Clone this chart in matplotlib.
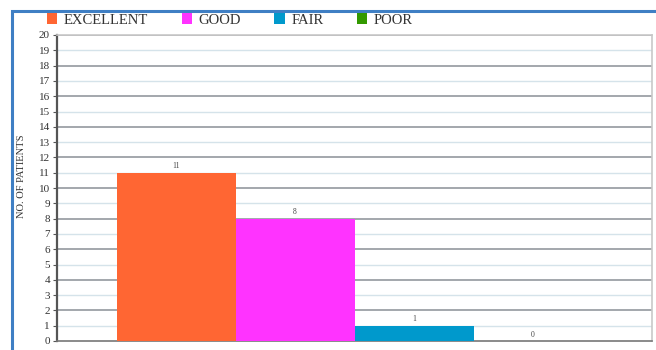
import matplotlib
matplotlib.use("Agg")
import matplotlib.pyplot as plt
from matplotlib.patches import Rectangle, Patch

# === DATA ===
categories = ["EXCELLENT", "GOOD", "FAIR", "POOR"]
patients = [11, 8, 1, 0]
colors = ["#ff6633", "#ff33ff", "#0099cc", "#339900"]
y_ticks = list(range(0, 21))

plt.rcParams["font.family"] = ["Liberation Serif", "DejaVu Serif"]

fig = plt.figure(figsize=(6.56, 3.5), dpi=100)
ax = fig.add_axes([57 / 656, 9 / 350, (652 - 57) / 656, (341 - 35) / 350])

# blue frame around the picture
fig.patches.append(Rectangle((12 / 656, -0.05), 0.99, (350 - 11) / 350 + 0.05,
                             transform=fig.transFigure, fill=False,
                             edgecolor="#3f7fc4", linewidth=2.2, zorder=0))

width = 0.2
for i, (cat, val, col) in enumerate(zip(categories, patients, colors)):
    x = -0.3 + i * width
    ax.bar(x, val, width=width, color=col, zorder=3)
    ax.text(x, val + 0.15, str(val), ha="center", va="bottom",
            fontsize=5.5, color="#444444", zorder=4)

ax.set_xlim(-0.5, 0.5)
ax.set_ylim(0, 20)
ax.set_yticks(y_ticks)
ax.set_yticklabels([str(t) for t in y_ticks], fontsize=8, color="#333333")
ax.set_xticks([])

for t in y_ticks[1:]:
    if t % 2 == 0:
        ax.axhline(t, color="#8a9096", linewidth=1.1, zorder=1)
    else:
        ax.axhline(t, color="#d5e3ea", linewidth=1.0, zorder=1)

for side in ["top", "right"]:
    ax.spines[side].set_color("#c8c8c8")
    ax.spines[side].set_linewidth(1.2)
ax.spines["left"].set_color("#555555")
ax.spines["left"].set_linewidth(1.6)
ax.spines["bottom"].set_color("#777777")
ax.spines["bottom"].set_linewidth(1.2)
ax.tick_params(axis="y", length=3, width=0.8, color="#555555", pad=2)

ax.set_ylabel("NO. OF PATIENTS", fontsize=7.6, color="#333333")
ax.yaxis.set_label_coords((26 - 57) / 595, (341 - 176) / 306)

handles = [Patch(facecolor=c, edgecolor="none") for c in colors]
fig.legend(handles, categories, loc="center left", bbox_to_anchor=(47 / 656, 1 - 20 / 350),
           ncol=4, frameon=False, fontsize=10.5, handlelength=0.7, handleheight=0.7,
           handletextpad=0.45, columnspacing=2.3, labelcolor="#333333",
           borderaxespad=0, borderpad=0)

fig.savefig("out.png", dpi=100)
